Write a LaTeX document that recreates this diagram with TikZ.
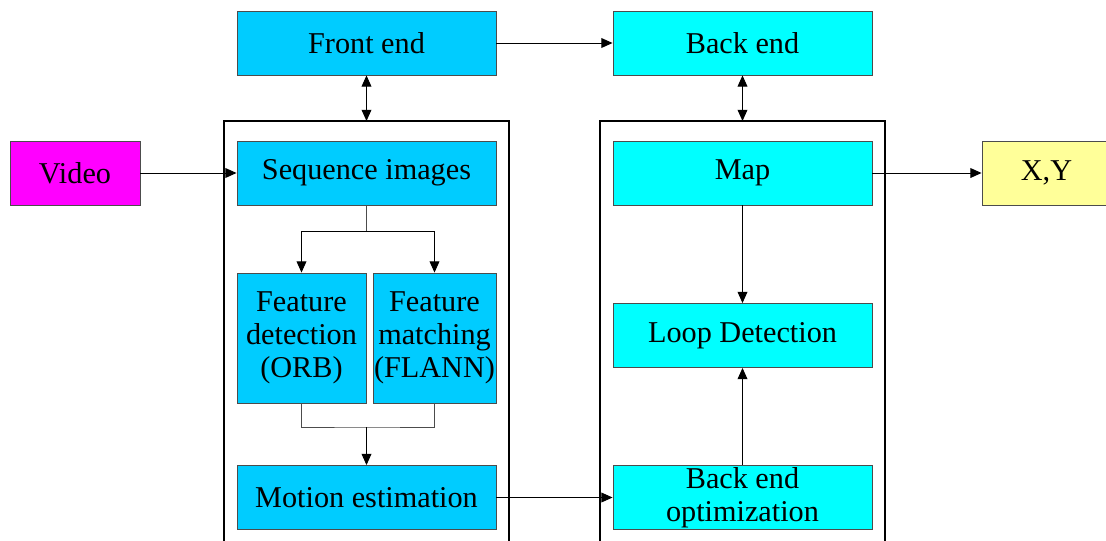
\documentclass[tikz,border=0pt]{standalone}
\usepackage{fontspec}
\setmainfont{Liberation Serif}
\usetikzlibrary{arrows.meta}

\definecolor{frontblue}{RGB}{0,204,255}
\definecolor{backcyan}{RGB}{0,255,255}
\definecolor{inpink}{RGB}{255,0,255}
\definecolor{outyellow}{RGB}{255,255,153}

\begin{document}
\begin{tikzpicture}[
    x=0.025cm, y=-0.025cm,
    >={Triangle[length=8pt,width=7pt]},
    every node/.style={draw=black!70, line width=0.6pt, rectangle, inner sep=0pt, align=center,
                       font=\fontsize{21.5}{23.5}\selectfont},
    wide/.style={minimum width=6.475cm, minimum height=1.6cm},
    frontbox/.style={wide, fill=frontblue},
    backbox/.style={wide, fill=backcyan},
    link/.style={->, line width=0.7pt},
    plainlink/.style={line width=0.7pt, draw=black!70},
    frame/.style={line width=0.9pt}
]
  \useasboundingbox (0,0) rectangle (1106,540);

  % Frames around the two ends
  \draw[frame] (224,545) |- (509,121) -- (509,545);
  \draw[frame] (600,545) |- (885,121) -- (885,545);
  \coordinate (lefttop) at (366.5,121);
  \coordinate (righttop) at (742.5,121);

  % Top row
  \node[frontbox] (front) at (366.5,43) {Front end};
  \node[backbox] (back) at (742.5,43) {Back end};

  % Front end chain
  \node[fill=inpink, minimum width=3.25cm, minimum height=1.6cm] (video) at (75,173) {Video};
  \node[frontbox] (seq) at (366.5,173) {Sequence images};
  \node[fill=frontblue, minimum width=3.225cm, minimum height=3.25cm] (fdet) at (301.5,338)
       {Feature\\detection\\(ORB)};
  \node[fill=frontblue, minimum width=3.075cm, minimum height=3.25cm] (fmat) at (434.5,338)
       {Feature\\matching\\(FLANN)};
  \node[frontbox] (motion) at (366.5,497.5) {Motion estimation};

  % Back end chain
  \node[backbox] (map) at (742.5,173) {Map};
  \node[backbox] (loop) at (742.5,335.5) {Loop Detection};
  \node[backbox] (opt) at (742.5,497.5) {Back end\\optimization};
  \node[fill=outyellow, minimum width=3.225cm, minimum height=1.6cm] (xy) at (1046.5,173) {X,Y};

  \draw[link] (front) -- (back);
  \draw[link, <->] (front) -- (lefttop);
  \draw[link, <->] (back) -- (righttop);
  \draw[link] (video) -- (seq);

  \coordinate (split) at (366.5,231);
  \coordinate (merge) at (366.5,427);
  \draw[plainlink] (seq) -- (split);
  \draw[link] (split) -| (fdet);
  \draw[link] (split) -| (fmat);
  \draw[plainlink] (fdet) |- (merge) -| (fmat);
  \draw[link] (merge) -- (motion);

  \draw[link] (motion) -- (opt);
  \draw[link] (map) -- (loop);
  \draw[link] (opt) -- (loop);
  \draw[link] (map) -- (xy);
\end{tikzpicture}
\end{document}
